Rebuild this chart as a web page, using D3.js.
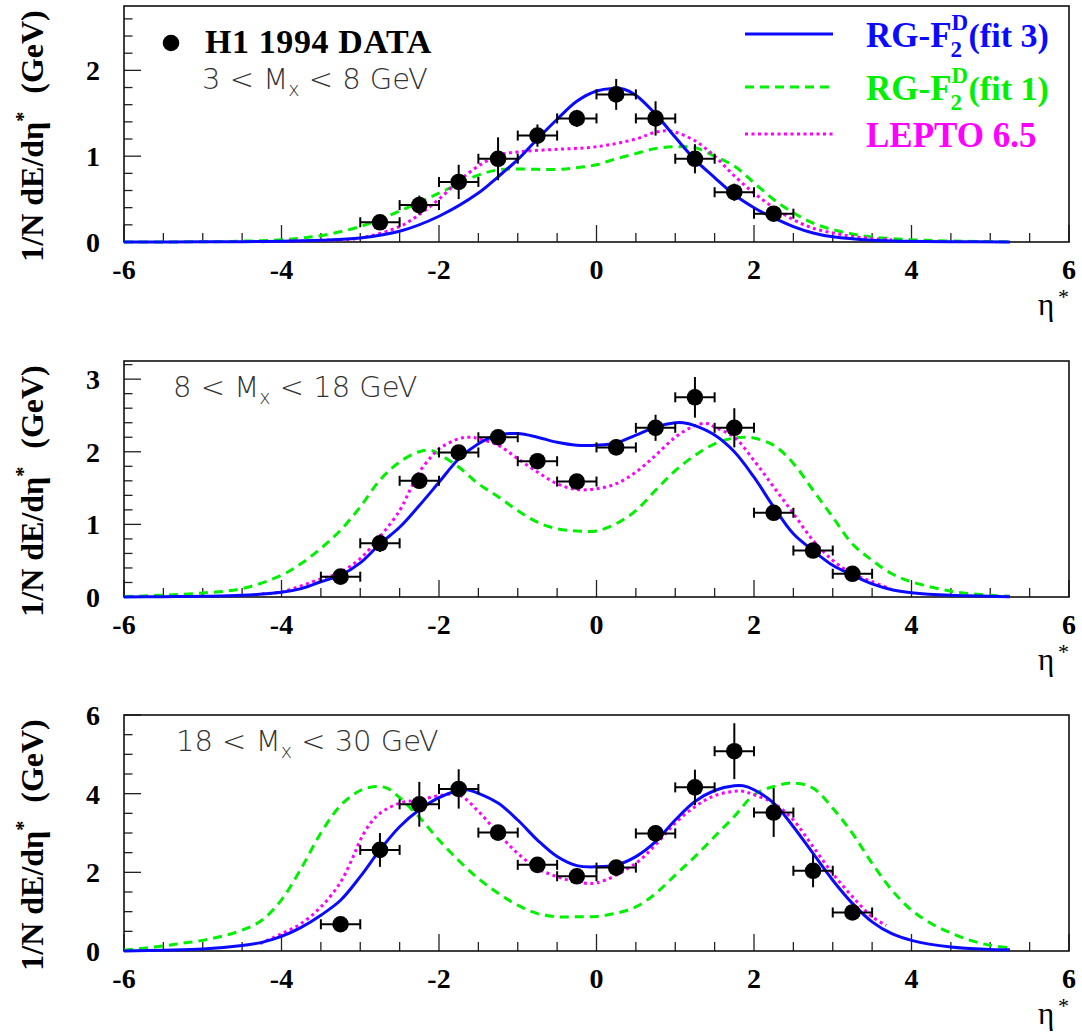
<!DOCTYPE html>
<html>
<head>
<meta charset="utf-8">
<script src="https://cdn.jsdelivr.net/npm/d3@7"></script>
<style>
  body { margin: 0; background: white; }
</style>
</head>
<body>
<div id="chart"></div>
<script>
// ---- data ----
const etaTop = [-2.75, -2.25, -1.75, -1.25, -0.75, -0.25, 0.25, 0.75, 1.25, 1.75, 2.25];
const etaWide = [-3.25, -2.75, -2.25, -1.75, -1.25, -0.75, -0.25, 0.25, 0.75, 1.25, 1.75, 2.25, 2.75, 3.25];

const p1Val = [0.23, 0.43, 0.70, 0.97, 1.24, 1.44, 1.72, 1.44, 0.97, 0.58, 0.33];
const p1Err = [0.04, 0.11, 0.20, 0.25, 0.13, 0.10, 0.18, 0.20, 0.17, 0.10, 0.05];
const p2Val = [0.28, 0.74, 1.60, 1.99, 2.20, 1.87, 1.59, 2.06, 2.33, 2.75, 2.33, 1.16, 0.64, 0.32];
const p2Err = [0.06, 0.12, 0.08, 0.08, 0.06, 0.08, 0.06, 0.07, 0.18, 0.28, 0.27, 0.08, 0.07, 0.05];
const p3Val = [0.68, 2.57, 3.73, 4.12, 3.01, 2.19, 1.90, 2.12, 2.99, 4.16, 5.08, 3.52, 2.04, 0.98];
const p3Err = [0.10, 0.43, 0.57, 0.50, 0.15, 0.15, 0.12, 0.15, 0.21, 0.45, 0.71, 0.62, 0.42, 0.10];
const binHalfWidth = 0.25;

// model curves, [eta, value]
const p1Fit3 = [[-6,0],[-5,0.002],[-4.5,0.004],[-4,0.008],[-3.5,0.02],[-3,0.047],[-2.5,0.125],[-2,0.30],[-1.5,0.57],[-1.25,0.76],[-1,0.96],[-0.75,1.2],[-0.5,1.43],[-0.25,1.64],[0,1.76],[0.2,1.79],[0.35,1.78],[0.5,1.71],[0.75,1.49],[1,1.22],[1.25,0.96],[1.5,0.75],[1.75,0.55],[2,0.40],[2.25,0.28],[2.5,0.18],[2.75,0.105],[3,0.06],[3.5,0.02],[4,0.008],[4.5,0.003],[5.25,0.001]];
const p1Fit1 = [[-6,0],[-5,0.003],[-4.5,0.01],[-4,0.025],[-3.75,0.047],[-3.5,0.074],[-3,0.18],[-2.5,0.36],[-2,0.57],[-1.5,0.78],[-1.25,0.84],[-1,0.85],[-0.5,0.845],[-0.25,0.865],[0,0.90],[0.25,0.97],[0.5,1.03],[0.75,1.09],[1,1.11],[1.25,1.10],[1.5,1.0],[1.75,0.885],[2,0.69],[2.25,0.495],[2.5,0.34],[2.75,0.22],[3,0.144],[3.25,0.094],[3.5,0.058],[4,0.027],[4.5,0.012],[5.25,0.003]];
const p1Lepto = [[-4.25,0.003],[-4,0.008],[-3.5,0.02],[-3,0.047],[-2.5,0.18],[-2.25,0.32],[-2,0.50],[-1.75,0.71],[-1.5,0.885],[-1.25,1.01],[-1,1.05],[-0.5,1.08],[0,1.11],[0.5,1.2],[0.75,1.28],[0.9,1.295],[1,1.28],[1.25,1.18],[1.5,1.0],[1.75,0.77],[2,0.57],[2.25,0.40],[2.5,0.26],[2.75,0.16],[3,0.105],[3.25,0.066],[3.5,0.04],[3.75,0.025]];

const p2Fit3 = [[-6,0],[-5.5,0.005],[-5,0.01],[-4.5,0.023],[-4,0.064],[-3.75,0.115],[-3.5,0.21],[-3.25,0.30],[-3,0.47],[-2.75,0.73],[-2.5,0.96],[-2.25,1.26],[-2,1.58],[-1.75,1.9],[-1.5,2.11],[-1.25,2.23],[-1,2.25],[-0.75,2.2],[-0.5,2.13],[-0.25,2.09],[0,2.09],[0.25,2.12],[0.5,2.23],[0.75,2.34],[1,2.40],[1.1,2.40],[1.25,2.36],[1.5,2.23],[1.75,2.0],[2,1.65],[2.25,1.24],[2.5,0.87],[2.75,0.64],[3,0.436],[3.25,0.30],[3.5,0.18],[3.75,0.10],[4,0.06],[4.5,0.023],[5,0.01],[5.25,0.005]];
const p2Fit1 = [[-6,0.005],[-5.5,0.025],[-5,0.055],[-4.5,0.115],[-4,0.30],[-3.75,0.46],[-3.5,0.67],[-3.25,0.92],[-3,1.24],[-2.75,1.61],[-2.5,1.86],[-2.25,2.0],[-2.1,2.02],[-2,1.97],[-1.75,1.79],[-1.5,1.56],[-1.25,1.38],[-1,1.19],[-0.75,1.03],[-0.5,0.94],[-0.25,0.91],[0,0.91],[0.25,1.01],[0.5,1.19],[0.75,1.47],[1,1.74],[1.25,1.95],[1.5,2.11],[1.75,2.19],[1.9,2.2],[2,2.19],[2.25,2.09],[2.5,1.84],[2.75,1.47],[3,1.10],[3.25,0.73],[3.5,0.505],[3.75,0.32],[4,0.21],[4.5,0.08],[5,0.023],[5.25,0.01]];
const p2Lepto = [[-4.25,0.045],[-4,0.07],[-3.5,0.25],[-3.25,0.34],[-3,0.53],[-2.75,0.83],[-2.5,1.19],[-2.37,1.47],[-2.25,1.72],[-2.1,1.93],[-2,2.04],[-1.75,2.18],[-1.6,2.2],[-1.5,2.18],[-1.25,2.09],[-1,1.905],[-0.75,1.72],[-0.5,1.56],[-0.25,1.48],[0,1.49],[0.25,1.56],[0.5,1.72],[0.75,1.95],[1,2.20],[1.25,2.36],[1.4,2.39],[1.5,2.34],[1.75,2.20],[2,1.88],[2.25,1.515],[2.5,1.15],[2.75,0.78],[3,0.505],[3.25,0.32],[3.5,0.21],[3.73,0.115]];

const p3Fit3 = [[-6,0],[-5.5,0.02],[-5,0.05],[-4.5,0.14],[-4.25,0.22],[-4,0.37],[-3.75,0.60],[-3.5,0.91],[-3.25,1.29],[-3,1.89],[-2.75,2.57],[-2.5,3.16],[-2.25,3.59],[-2,3.90],[-1.75,4.08],[-1.65,4.1],[-1.5,4.01],[-1.25,3.76],[-1,3.33],[-0.75,2.82],[-0.5,2.40],[-0.25,2.17],[0,2.14],[0.25,2.185],[0.5,2.40],[0.75,2.78],[1,3.33],[1.25,3.80],[1.5,4.08],[1.75,4.20],[1.86,4.2],[2,4.10],[2.25,3.76],[2.5,3.16],[2.75,2.48],[3,1.80],[3.25,1.21],[3.5,0.74],[3.75,0.44],[4,0.27],[4.5,0.10],[5,0.04],[5.25,0.03]];
const p3Fit1 = [[-6,0.02],[-5.5,0.13],[-5.25,0.2],[-5,0.27],[-4.75,0.38],[-4.5,0.53],[-4.25,0.78],[-4,1.3],[-3.75,2.1],[-3.5,3.0],[-3.25,3.7],[-3,4.08],[-2.8,4.18],[-2.66,4.14],[-2.5,3.9],[-2.25,3.4],[-2,2.82],[-1.75,2.3],[-1.5,1.84],[-1.25,1.47],[-1,1.165],[-0.75,0.95],[-0.5,0.87],[-0.25,0.87],[0,0.88],[0.25,0.96],[0.5,1.12],[0.75,1.46],[1,1.93],[1.25,2.40],[1.5,2.91],[1.75,3.42],[2,3.97],[2.25,4.18],[2.5,4.27],[2.75,4.14],[3,3.63],[3.25,2.99],[3.5,2.23],[3.75,1.55],[4,1.04],[4.25,0.70],[4.5,0.46],[4.75,0.27],[5,0.145],[5.25,0.085]];
const p3Lepto = [[-4.27,0.19],[-4,0.44],[-3.75,0.70],[-3.5,1.12],[-3.25,1.75],[-3.09,2.40],[-3,2.82],[-2.87,3.25],[-2.75,3.5],[-2.5,3.76],[-2.25,3.84],[-2,3.95],[-1.75,3.97],[-1.5,3.55],[-1.25,2.99],[-1,2.48],[-0.75,2.10],[-0.5,1.89],[-0.25,1.76],[0,1.73],[0.5,2.23],[0.75,2.70],[1,3.25],[1.25,3.67],[1.5,3.95],[1.75,4.06],[1.86,4.06],[2,3.97],[2.25,3.76],[2.5,3.33],[2.75,2.65],[3,1.97],[3.25,1.38],[3.5,0.87],[3.68,0.65]];

const rangeLabels = [["3", "8"], ["8", "18"], ["18", "30"]];
const yMaxes = [2.75, 3.25, 6];
const legendNames = ["(fit 3)", "(fit 1)", "LEPTO 6.5"];

// ---- layout ----
const width = 1082, height = 1033;
const svg = d3.select("#chart").append("svg")
    .attr("width", width)
    .attr("height", height)
    .style("background-color", "white");

const serif = "'Liberation Serif', 'Times New Roman', serif";
const thin = "'DejaVu Sans', 'Liberation Sans', sans-serif";
const blue = "#0a0aff", green = "#00f000", magenta = "#ff00ff";

const x = d3.scaleLinear().domain([-6, 6]).range([124, 1069]);
const panelTops = [6, 361, 715];
const panelH = 236;

const panels = [
    {eta: etaTop, val: p1Val, err: p1Err, fit3: p1Fit3, fit1: p1Fit1, lepto: p1Lepto, major: [0, 1, 2], minor: 0.2, labelX: 202, labelDy: 83},
    {eta: etaWide, val: p2Val, err: p2Err, fit3: p2Fit3, fit1: p2Fit1, lepto: p2Lepto, major: [0, 1, 2, 3], minor: 0.2, labelX: 173, labelDy: 36},
    {eta: etaWide, val: p3Val, err: p3Err, fit3: p3Fit3, fit1: p3Fit1, lepto: p3Lepto, major: [0, 2, 4, 6], minor: 0.5, labelX: 176, labelDy: 36}
];

panels.forEach((p, i) => {
    const top = panelTops[i];
    const y = d3.scaleLinear().domain([0, yMaxes[i]]).range([top + panelH, top]);
    const g = svg.append("g");
    const y0 = y(0);

    // y ticks (inside the frame)
    const yMinor = d3.range(0, yMaxes[i] + 1e-6, p.minor);
    g.selectAll(".ymin").data(yMinor).enter().append("line")
        .attr("x1", x(-6)).attr("x2", d => p.major.some(m => Math.abs(m - d) < 1e-6) ? x(-6) + 17 : x(-6) + 8.5)
        .attr("y1", d => y(d)).attr("y2", d => y(d))
        .attr("stroke", "#222").attr("stroke-width", 1.3);

    g.selectAll(".ylab").data(p.major).enter().append("text")
        .attr("x", 100).attr("y", d => y(d) + 10)
        .attr("text-anchor", "end")
        .attr("font-family", serif).attr("font-weight", "bold").attr("font-size", 28)
        .text(d => d);

    // x ticks
    const xTicks = d3.range(-6, 6.001, 0.5);
    g.selectAll(".xt").data(xTicks).enter().append("line")
        .attr("x1", d => x(d)).attr("x2", d => x(d))
        .attr("y1", y0).attr("y2", d => Math.abs(d % 2) < 1e-6 ? y0 - 17 : y0 - 9)
        .attr("stroke", "#222").attr("stroke-width", 1.3);

    g.selectAll(".xlab").data(d3.range(-6, 7, 2)).enter().append("text")
        .attr("x", d => x(d)).attr("y", y0 + 37)
        .attr("text-anchor", "middle")
        .attr("font-family", serif).attr("font-weight", "bold").attr("font-size", 28)
        .text(d => d);

    // frame
    g.append("rect")
        .attr("x", x(-6)).attr("y", top)
        .attr("width", x(6) - x(-6)).attr("height", panelH)
        .attr("fill", "none").attr("stroke", "#111").attr("stroke-width", 1.6);

    // curves
    const line = d3.line()
        .x(d => x(d[0])).y(d => y(d[1]))
        .curve(d3.curveCatmullRom.alpha(0.5));
    g.append("path").attr("d", line(p.fit1))
        .attr("fill", "none").attr("stroke", green).attr("stroke-width", 3)
        .attr("stroke-dasharray", "9,6");
    g.append("path").attr("d", line(p.lepto))
        .attr("fill", "none").attr("stroke", magenta).attr("stroke-width", 3)
        .attr("stroke-dasharray", "3,3.5");
    g.append("path").attr("d", line(p.fit3))
        .attr("fill", "none").attr("stroke", blue).attr("stroke-width", 3);

    // data points with error bars
    const pts = p.eta.map((e, k) => ({eta: e, v: p.val[k], err: p.err[k]}));
    const pg = g.selectAll(".pt").data(pts).enter().append("g");
    pg.append("line")
        .attr("x1", d => x(d.eta - binHalfWidth)).attr("x2", d => x(d.eta + binHalfWidth))
        .attr("y1", d => y(d.v)).attr("y2", d => y(d.v))
        .attr("stroke", "black").attr("stroke-width", 2);
    pg.append("line")
        .attr("x1", d => x(d.eta - binHalfWidth)).attr("x2", d => x(d.eta - binHalfWidth))
        .attr("y1", d => y(d.v) - 5).attr("y2", d => y(d.v) + 5)
        .attr("stroke", "black").attr("stroke-width", 2);
    pg.append("line")
        .attr("x1", d => x(d.eta + binHalfWidth)).attr("x2", d => x(d.eta + binHalfWidth))
        .attr("y1", d => y(d.v) - 5).attr("y2", d => y(d.v) + 5)
        .attr("stroke", "black").attr("stroke-width", 2);
    pg.append("line")
        .attr("x1", d => x(d.eta)).attr("x2", d => x(d.eta))
        .attr("y1", d => y(d.v + d.err)).attr("y2", d => y(d.v - d.err))
        .attr("stroke", "black").attr("stroke-width", 2);
    pg.append("circle")
        .attr("cx", d => x(d.eta)).attr("cy", d => y(d.v)).attr("r", 8.3)
        .attr("fill", "black");

    // mass range label
    const rl = g.append("text")
        .attr("x", p.labelX).attr("y", top + p.labelDy)
        .attr("font-family", thin).attr("font-size", 29).attr("font-weight", 200)
        .attr("fill", "#333");
    rl.append("tspan").text(rangeLabels[i][0] + " < M");
    rl.append("tspan").attr("dy", 7).attr("font-size", 19).text("x");
    rl.append("tspan").attr("dy", -7).text(" < " + rangeLabels[i][1] + " GeV");

    // y axis title
    const yt = g.append("text")
        .attr("transform", `translate(43, ${top + panelH / 2 + 12}) rotate(-90)`)
        .attr("text-anchor", "middle")
        .attr("font-family", serif).attr("font-weight", "bold").attr("font-size", 32);
    yt.append("tspan").text("1/N dE/dη");
    yt.append("tspan").attr("dy", -13).attr("font-size", 20).text("*");
    yt.append("tspan").attr("dy", 13).attr("dx", 18).text("(GeV)");

    // x axis title
    g.append("text")
        .attr("x", 1038).attr("y", y0 + 73)
        .attr("font-family", serif).attr("font-size", 31)
        .text("η");
    g.append("text")
        .attr("x", 1058).attr("y", y0 + 62)
        .attr("font-family", serif).attr("font-size", 22)
        .text("*");
});

// ---- legend ----
svg.append("circle").attr("cx", 171).attr("cy", 43).attr("r", 8.3).attr("fill", "black");
svg.append("text")
    .attr("x", 205).attr("y", 53)
    .attr("font-family", serif).attr("font-weight", "bold").attr("font-size", 34)
    .attr("letter-spacing", 0.6)
    .text("H1 1994 DATA");

// width of "RG-F" for placing the stacked sub/superscript
const probe = svg.append("text")
    .attr("font-family", serif).attr("font-weight", "bold").attr("font-size", 35)
    .text("RG-F");
const rgfWidth = probe.node().getComputedTextLength();
probe.remove();

const legendY = [34, 87, 134];
const legendColor = [blue, green, magenta];
const legendDash = [null, "9,6", "3,3.5"];
legendY.forEach((ly, k) => {
    svg.append("line")
        .attr("x1", 745).attr("x2", 833).attr("y1", ly).attr("y2", ly)
        .attr("stroke", legendColor[k]).attr("stroke-width", 3)
        .attr("stroke-dasharray", legendDash[k]);
    const base = ly + 12.5;
    const t = svg.append("text")
        .attr("x", 866).attr("y", base)
        .attr("font-family", serif).attr("font-weight", "bold").attr("font-size", 35)
        .attr("fill", legendColor[k]);
    if (k < 2) {
        t.append("tspan").text("RG-F");
        t.append("tspan").attr("x", 866 + rgfWidth - 1).attr("y", base + 10).attr("font-size", 23).text("2");
        t.append("tspan").attr("x", 866 + rgfWidth).attr("y", base - 17).attr("font-size", 23).text("D");
        t.append("tspan").attr("x", 866 + rgfWidth + 17).attr("y", base).attr("font-size", 34).text(legendNames[k]);
    } else {
        t.text(legendNames[k]);
    }
});
</script>
</body>
</html>
